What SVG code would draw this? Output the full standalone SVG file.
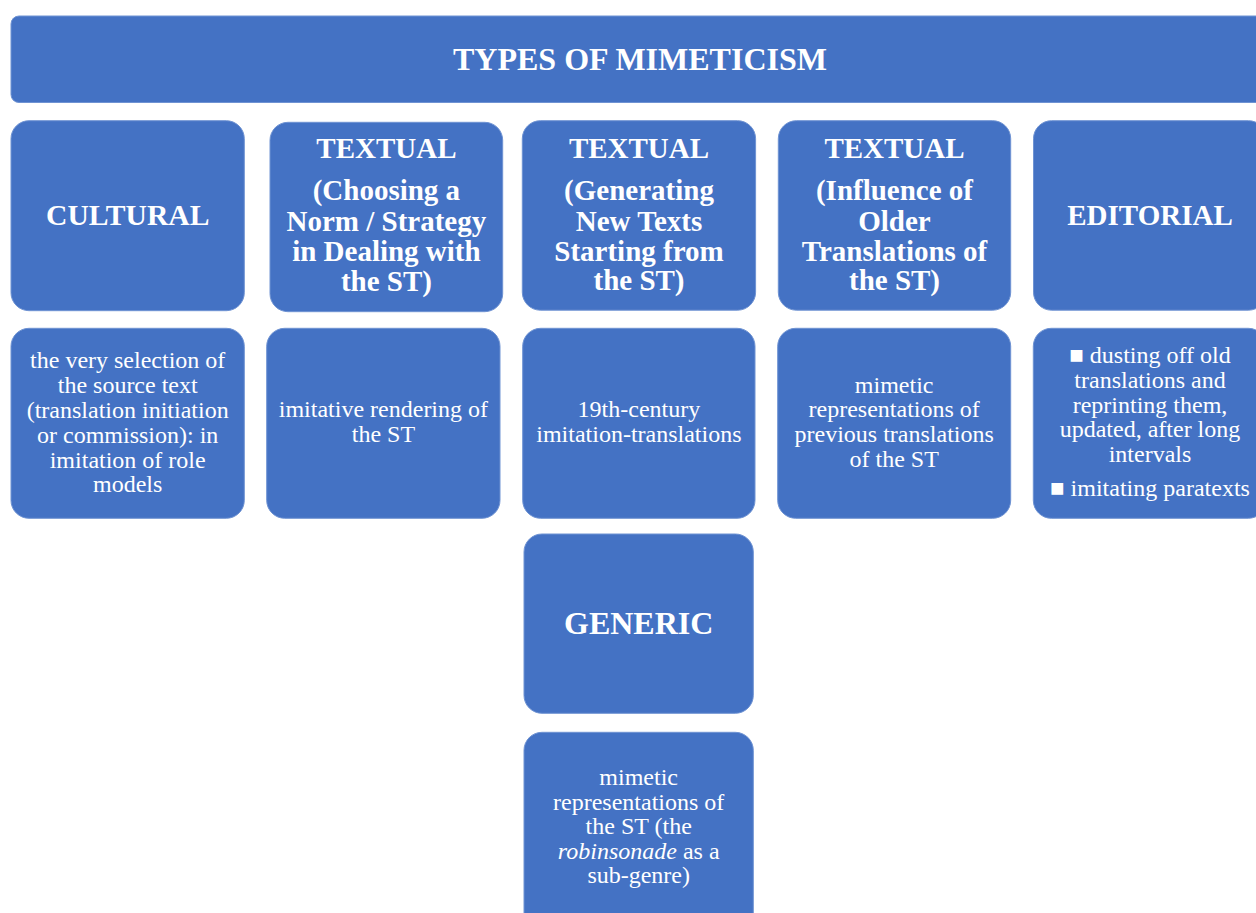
<svg xmlns="http://www.w3.org/2000/svg" width="1256" height="913" viewBox="0 0 1256 913">
<style>
.box{fill:#4472C4;stroke:#6F93D3;stroke-width:1}
.h{font-family:"Liberation Serif","Times New Roman",serif;font-weight:bold;fill:#FFFFFF;text-anchor:middle;font-size:29px}
.t{font-family:"Liberation Serif","Times New Roman",serif;fill:#FFFFFF;text-anchor:middle;font-size:24px}
</style>
<rect width="1256" height="913" fill="#FFFFFF"/>
<g id="title">
<rect class="box" x="11" y="16" width="1262" height="86.5" rx="8"/>
<text class="h" x="640" y="70" style="font-size:32px">TYPES OF MIMETICISM</text>
</g>
<g id="cultural">
<rect class="box" x="11" y="120.7" width="233.3" height="190" rx="18"/>
<text class="h" x="127.7" y="225" style="font-size:29.6px">CULTURAL</text>
</g>
<g id="textual-norm">
<rect class="box" x="270" y="122.3" width="232.7" height="189.4" rx="18"/>
<text class="h" x="386.4" y="158.3">TEXTUAL</text>
<text class="h" x="386.4" y="200">(Choosing a</text>
<text class="h" x="386.4" y="231">Norm / Strategy</text>
<text class="h" x="386.4" y="261">in Dealing with</text>
<text class="h" x="386.4" y="291">the ST)</text>
</g>
<g id="textual-generating">
<rect class="box" x="522.3" y="120.7" width="233.3" height="189.5" rx="18"/>
<text class="h" x="639" y="158.3">TEXTUAL</text>
<text class="h" x="639" y="200">(Generating</text>
<text class="h" x="639" y="230.5">New Texts</text>
<text class="h" x="639" y="260.5">Starting from</text>
<text class="h" x="639" y="290">the ST)</text>
</g>
<g id="textual-influence">
<rect class="box" x="778.3" y="120.7" width="232.4" height="189.5" rx="18"/>
<text class="h" x="894.5" y="158.3">TEXTUAL</text>
<text class="h" x="894.5" y="200">(Influence of</text>
<text class="h" x="894.5" y="230.5">Older</text>
<text class="h" x="894.5" y="260.5">Translations of</text>
<text class="h" x="894.5" y="290">the ST)</text>
</g>
<g id="editorial">
<rect class="box" x="1033.5" y="120.7" width="233" height="189.5" rx="18"/>
<text class="h" x="1150" y="225">EDITORIAL</text>
</g>
<g id="cultural-desc">
<rect class="box" x="11" y="328.3" width="233.3" height="190" rx="18"/>
<text class="t" x="127.7" y="367.7">the very selection of</text>
<text class="t" x="127.7" y="392.7">the source text</text>
<text class="t" x="127.7" y="417.7">(translation initiation</text>
<text class="t" x="127.7" y="442.7">or commission): in</text>
<text class="t" x="127.7" y="467.7">imitation of role</text>
<text class="t" x="127.7" y="492">models</text>
</g>
<g id="norm-desc">
<rect class="box" x="266.7" y="328.3" width="233.3" height="190" rx="18"/>
<text class="t" x="383.4" y="416.7">imitative rendering of</text>
<text class="t" x="383.4" y="441.7">the ST</text>
</g>
<g id="generating-desc">
<rect class="box" x="522.7" y="328.3" width="232.3" height="190" rx="18"/>
<text class="t" x="638.9" y="417.3">19th-century</text>
<text class="t" x="638.9" y="442.3">imitation-translations</text>
</g>
<g id="influence-desc">
<rect class="box" x="777.7" y="328.3" width="233" height="190" rx="18"/>
<text class="t" x="894.2" y="392.7">mimetic</text>
<text class="t" x="894.2" y="417.3">representations of</text>
<text class="t" x="894.2" y="442.3">previous translations</text>
<text class="t" x="894.2" y="467.3">of the ST</text>
</g>
<g id="editorial-desc">
<rect class="box" x="1033.3" y="328.3" width="233" height="190" rx="18"/>
<text class="t" x="1150" y="363.3">■ dusting off old</text>
<text class="t" x="1150" y="388">translations and</text>
<text class="t" x="1150" y="412.6">reprinting them,</text>
<text class="t" x="1150" y="437.2">updated, after long</text>
<text class="t" x="1150" y="461.7">intervals</text>
<text class="t" x="1150" y="495.7">■ imitating paratexts</text>
</g>
<g id="generic">
<rect class="box" x="524" y="534" width="229.3" height="179.3" rx="18"/>
<text class="h" x="638.7" y="634" style="font-size:32px">GENERIC</text>
</g>
<g id="generic-desc">
<rect class="box" x="524" y="732.3" width="229.3" height="200" rx="18"/>
<text class="t" x="638.7" y="785">mimetic</text>
<text class="t" x="638.7" y="809.5">representations of</text>
<text class="t" x="638.7" y="834.2">the ST (the</text>
<text class="t" x="638.7" y="859"><tspan font-style="italic">robinsonade</tspan> as a</text>
<text class="t" x="638.7" y="883.3">sub-genre)</text>
</g>
<g id="connectors"/>
</svg>
